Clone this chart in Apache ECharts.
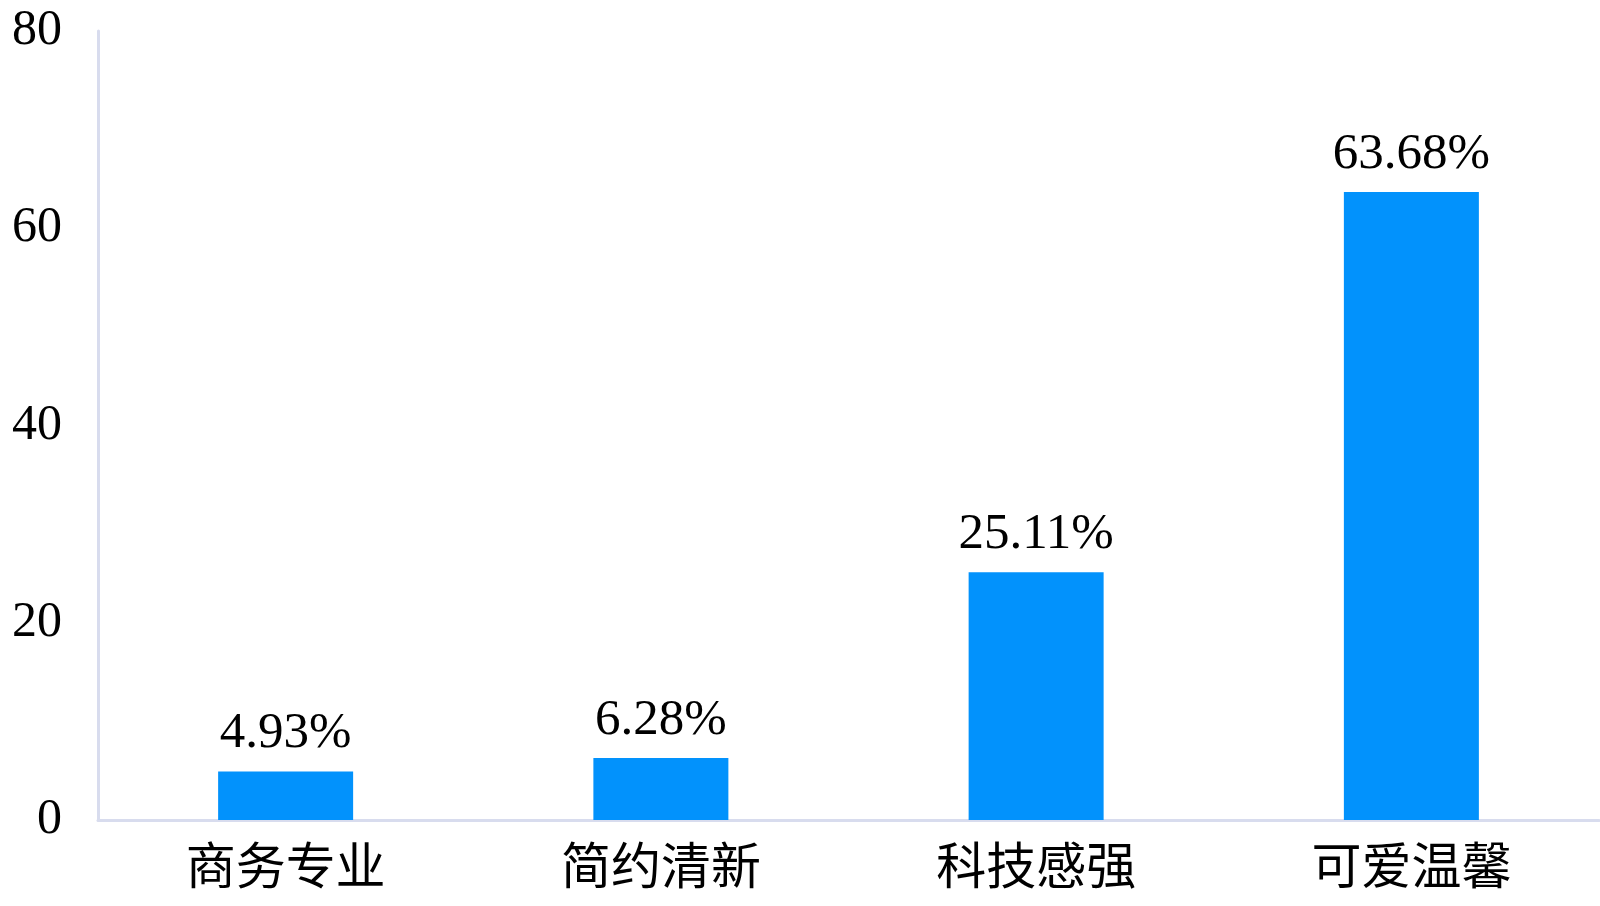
<!DOCTYPE html>
<html>
<head>
<meta charset="utf-8">
<script src="https://cdn.jsdelivr.net/npm/echarts@6/dist/echarts.min.js"></script>
<style>html,body{margin:0;padding:0;background:#fff;}#c{width:1600px;height:906px;}</style>
</head>
<body>
<div id="c"></div>
<script>
const categories = ['商务专业', '简约清新', '科技感强', '可爱温馨'];
const values = [4.93, 6.28, 25.11, 63.68];
const yTicks = [0, 20, 40, 60, 80];

const FONT = '"Liberation Serif", "Noto Sans CJK SC", serif';
const chart = echarts.init(document.getElementById('c'));
chart.setOption({
  animation: false,
  grid: { left: 98, right: 1, top: 31, bottom: 86, containLabel: false },
  xAxis: {
    type: 'category',
    data: categories,
    axisLine: { show: true, lineStyle: { color: '#D8DCEE', width: 3 } },
    axisTick: { show: false },
    axisLabel: { color: '#000', fontFamily: FONT, fontSize: 50, margin: 26 }
  },
  yAxis: {
    type: 'value',
    min: yTicks[0],
    max: yTicks[yTicks.length - 1],
    interval: 20,
    axisLine: { show: true, lineStyle: { color: '#D8DCEE', width: 3 } },
    axisTick: { show: false },
    splitLine: { show: false },
    axisLabel: { color: '#000', fontFamily: FONT, fontSize: 50, margin: 36 }
  },
  series: [{
    type: 'bar',
    data: values,
    barWidth: 135,
    itemStyle: { color: '#0292FC' },
    label: {
      show: true,
      position: 'top',
      distance: 12,
      color: '#000',
      fontFamily: FONT,
      fontSize: 51,
      formatter: p => p.value.toFixed(2) + '%'
    }
  }]
});
</script>
</body>
</html>
